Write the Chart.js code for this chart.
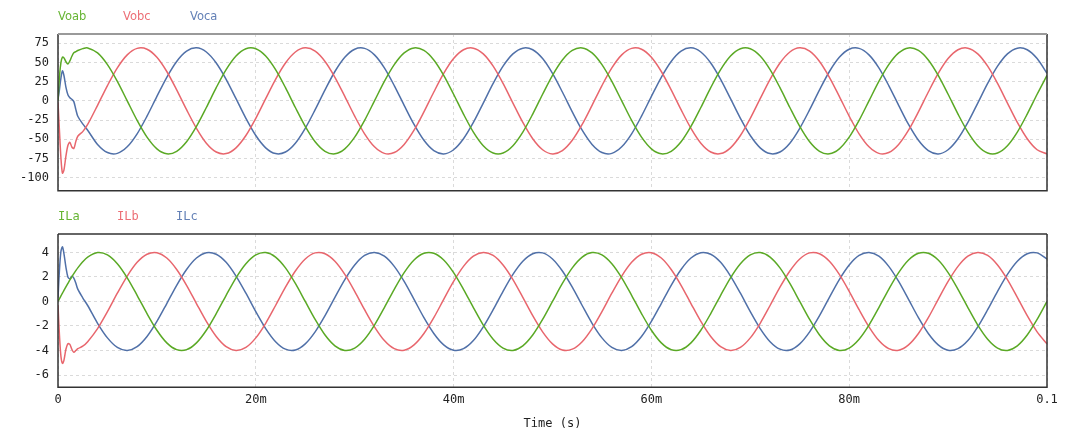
<!DOCTYPE html>
<html>
<head>
<meta charset="utf-8">
<script src="https://cdn.jsdelivr.net/npm/chart.js@4.4.1/dist/chart.umd.min.js"></script>
<style>
    html, body { margin: 0; padding: 0; background: #fff; }
    #wrap { position: relative; width: 1080px; height: 438px; overflow: hidden; }
    .panel { position: absolute; left: 0; width: 1080px; }
    .legend { position: absolute; font: 12px "DejaVu Sans Mono", monospace; line-height: 14px; white-space: pre; }
    .legend.sans { font: 11.5px "DejaVu Sans", sans-serif; line-height: 14px; }
</style>
</head>
<body>
<div id="wrap">
    <div class="panel" style="top:200px;height:238px"><canvas id="currChart" width="1080" height="238"></canvas></div>
    <div class="panel" style="top:0;height:207px"><canvas id="voltChart" width="1080" height="207"></canvas></div>
    <span class="legend sans" style="left:58px;top:9px;color:#66b533">Voab</span>
    <span class="legend sans" style="left:123px;top:9px;color:#ec6f76">Vobc</span>
    <span class="legend sans" style="left:190px;top:9px;color:#6380b6">Voca</span>
    <span class="legend" style="left:58px;top:209px;color:#66b533">ILa</span>
    <span class="legend" style="left:117px;top:209px;color:#ec6f76">ILb</span>
    <span class="legend" style="left:176px;top:209px;color:#6380b6">ILc</span>
</div>
<script>
// time axis in ms (labels shown as 0 .. 0.1 s)
const timeMs = [0, 0.15, 0.3, 0.45, 0.6, 0.8, 1, 1.2, 1.4, 1.6, 1.8, 2, 2.5,
    3, 4, 5, 6, 7, 8, 9, 10, 11, 12, 13, 14, 15, 16, 17, 18, 19, 20,
    21, 22, 23, 24, 25, 26, 27, 28, 29, 30, 31, 32, 33, 34, 35, 36, 37, 38, 39, 40,
    41, 42, 43, 44, 45, 46, 47, 48, 49, 50, 51, 52, 53, 54, 55, 56, 57, 58, 59, 60,
    61, 62, 63, 64, 65, 66, 67, 68, 69, 70, 71, 72, 73, 74, 75, 76, 77, 78, 79, 80,
    81, 82, 83, 84, 85, 86, 87, 88, 89, 90, 91, 92, 93, 94, 95, 96, 97, 98, 99, 100];

const voab = [0, 32, 50, 57, 56, 51, 48, 52, 58, 62.5, 64, 65.5, 68,
    68.9, 62.4, 47.2, 25.4, 0, -25.4, -47.2, -62.4, -68.9, -65.6, -53.2, -33.2, -8.6, 17.2, 40.6, 58.3, 67.8, 67.8,
    58.3, 40.6, 17.2, -8.6, -33.2, -53.2, -65.6, -68.9, -62.4, -47.2, -25.4, 0, 25.4, 47.2, 62.4, 68.9, 65.6, 53.2, 33.2, 8.6,
    -17.2, -40.6, -58.3, -67.8, -67.8, -58.3, -40.6, -17.2, 8.6,
    33.2, 53.2, 65.6, 68.9, 62.4, 47.2, 25.4, 0, -25.4, -47.2, -62.4, -68.9, -65.6, -53.2, -33.2, -8.6, 17.2, 40.6, 58.3, 67.8,
    67.8, 58.3, 40.6, 17.2, -8.6, -33.2, -53.2, -65.6, -68.9, -62.4, -47.2, -25.4, 0, 25.4, 47.2, 62.4, 68.9, 65.6, 53.2, 33.2,
    8.6, -17.2, -40.6, -58.3, -67.8, -67.8, -58.3, -40.6, -17.2, 8.6, 33.2];

const vobc = [-2, -40, -75, -94, -90, -72, -58, -54, -60, -62, -53, -46, -40,
    -30.7, -5.8, 19.9, 42.9, 59.8, 68.3, 67.2, 56.7, 38.2, 14.3, -11.5, -35.7, -55.0, -66.5, -68.6, -61.1, -45.1, -22.7,
    2.9, 28.1, 49.3, 63.6, 69.0, 64.7, 51.3, 30.7, 5.8, -19.9, -42.9, -59.8, -68.3, -67.2, -56.7, -38.2, -14.3, 11.5, 35.7, 55.0,
    66.5, 68.6, 61.1, 45.1, 22.7, -2.9, -28.1, -49.3, -63.6,
    -69.0, -64.7, -51.3, -30.7, -5.8, 19.9, 42.9, 59.8, 68.3, 67.2, 56.7, 38.2, 14.3, -11.5, -35.7, -55.0, -66.5, -68.6, -61.1, -45.1,
    -22.7, 2.9, 28.1, 49.3, 63.6, 69.0, 64.7, 51.3, 30.7, 5.8, -19.9, -42.9, -59.8, -68.3, -67.2, -56.7, -38.2, -14.3, 11.5, 35.7,
    55.0, 66.5, 68.6, 61.1, 45.1, 22.7, -2.9, -28.1, -49.3, -63.6, -69.0];

const voca = [2, 15, 30, 39, 33, 18, 8, 4, 2, -1, -11, -20, -30,
    -38.2, -56.7, -67.2, -68.3, -59.8, -42.9, -19.9, 5.8, 30.7, 51.3, 64.7, 69.0, 63.6, 49.3, 28.1, 2.9, -22.7, -45.1,
    -61.1, -68.6, -66.5, -55.0, -35.7, -11.5, 14.3, 38.2, 56.7, 67.2, 68.3, 59.8, 42.9, 19.9, -5.8, -30.7, -51.3, -64.7, -69.0, -63.6,
    -49.3, -28.1, -2.9, 22.7, 45.1, 61.1, 68.6, 66.5, 55.0,
    35.7, 11.5, -14.3, -38.2, -56.7, -67.2, -68.3, -59.8, -42.9, -19.9, 5.8, 30.7, 51.3, 64.7, 69.0, 63.6, 49.3, 28.1, 2.9, -22.7,
    -45.1, -61.1, -68.6, -66.5, -55.0, -35.7, -11.5, 14.3, 38.2, 56.7, 67.2, 68.3, 59.8, 42.9, 19.9, -5.8, -30.7, -51.3, -64.7, -69.0,
    -63.6, -49.3, -28.1, -2.9, 22.7, 45.1, 61.1, 68.6, 66.5, 55.0, 35.7];

const ila = [0, 0.23, 0.45, 0.68, 0.9, 1.19, 1.47, 1.75, 2.01, 2.27, 2.51, 2.74, 3.24,
    3.62, 3.99, 3.80, 3.08, 1.93, 0.50, -0.99, -2.35, -3.38, -3.93, -3.93, -3.38, -2.35, -0.99, 0.50, 1.93, 3.08, 3.80,
    3.99, 3.62, 2.74, 1.47, 0, -1.47, -2.74, -3.62, -3.99, -3.80, -3.08, -1.93, -0.50, 0.99, 2.35, 3.38, 3.93, 3.93, 3.38, 2.35,
    0.99, -0.50, -1.93, -3.08, -3.80, -3.99, -3.62, -2.74, -1.47,
    0, 1.47, 2.74, 3.62, 3.99, 3.80, 3.08, 1.93, 0.50, -0.99, -2.35, -3.38, -3.93, -3.93, -3.38, -2.35, -0.99, 0.50, 1.93, 3.08,
    3.80, 3.99, 3.62, 2.74, 1.47, 0, -1.47, -2.74, -3.62, -3.99, -3.80, -3.08, -1.93, -0.50, 0.99, 2.35, 3.38, 3.93, 3.93, 3.38,
    2.35, 0.99, -0.50, -1.93, -3.08, -3.80, -3.99, -3.62, -2.74, -1.47, 0];

const ilb = [-0.3, -2.8, -4.5, -5.05, -4.8, -3.9, -3.45, -3.5, -3.9, -4.15, -4.0, -3.85, -3.65,
    -3.28, -2.21, -0.83, 0.67, 2.07, 3.19, 3.85, 3.98, 3.54, 2.61, 1.32, -0.17, -1.63, -2.86, -3.69, -4.00, -3.75, -2.97,
    -1.78, -0.33, 1.16, 2.48, 3.46, 3.96, 3.89, 3.28, 2.21, 0.83, -0.67, -2.07, -3.19, -3.85, -3.98, -3.54, -2.61, -1.32, 0.17, 1.63,
    2.86, 3.69, 4.00, 3.75, 2.97, 1.78, 0.33, -1.16, -2.48,
    -3.46, -3.96, -3.89, -3.28, -2.21, -0.83, 0.67, 2.07, 3.19, 3.85, 3.98, 3.54, 2.61, 1.32, -0.17, -1.63, -2.86, -3.69, -4.00, -3.75,
    -2.97, -1.78, -0.33, 1.16, 2.48, 3.46, 3.96, 3.89, 3.28, 2.21, 0.83, -0.67, -2.07, -3.19, -3.85, -3.98, -3.54, -2.61, -1.32, 0.17,
    1.63, 2.86, 3.69, 4.00, 3.75, 2.97, 1.78, 0.33, -1.16, -2.48, -3.46];

const ilc = [0.3, 2.6, 4.1, 4.45, 3.9, 2.8, 2.0, 1.85, 2.05, 1.9, 1.5, 1.0, 0.3,
    -0.33, -1.78, -2.97, -3.75, -4.00, -3.69, -2.86, -1.63, -0.17, 1.32, 2.61, 3.54, 3.98, 3.85, 3.19, 2.07, 0.67, -0.83,
    -2.21, -3.28, -3.89, -3.96, -3.46, -2.48, -1.16, 0.33, 1.78, 2.97, 3.75, 4.00, 3.69, 2.86, 1.63, 0.17, -1.32, -2.61, -3.54, -3.98,
    -3.85, -3.19, -2.07, -0.67, 0.83, 2.21, 3.28, 3.89, 3.96,
    3.46, 2.48, 1.16, -0.33, -1.78, -2.97, -3.75, -4.00, -3.69, -2.86, -1.63, -0.17, 1.32, 2.61, 3.54, 3.98, 3.85, 3.19, 2.07, 0.67,
    -0.83, -2.21, -3.28, -3.89, -3.96, -3.46, -2.48, -1.16, 0.33, 1.78, 2.97, 3.75, 4.00, 3.69, 2.86, 1.63, 0.17, -1.32, -2.61, -3.54,
    -3.98, -3.85, -3.19, -2.07, -0.67, 0.83, 2.21, 3.28, 3.89, 3.96, 3.46];

const xTickValues = [0, 20, 40, 60, 80, 100];
const xTickLabels = ['0', '20m', '40m', '60m', '80m', '0.1'];
const voltTicks = [75, 50, 25, 0, -25, -50, -75, -100];
const currTicks = [4, 2, 0, -2, -4, -6];

const GREEN = '#5aa925';
const RED = '#e8666d';
const BLUE = '#5070a8';
const FONT = { family: '"DejaVu Sans Mono", monospace', size: 12 };

// box around the plot area, top edge can be a different colour
const framePlugin = {
    id: 'frame',
    afterDraw(chart, args, opts) {
        const { ctx, chartArea: a } = chart;
        ctx.save();
        ctx.lineWidth = 1.5;
        ctx.strokeStyle = '#333';
        ctx.beginPath();
        ctx.moveTo(a.left, a.top);
        ctx.lineTo(a.left, a.bottom);
        ctx.lineTo(a.right, a.bottom);
        ctx.lineTo(a.right, a.top);
        ctx.stroke();
        ctx.lineWidth = opts.topWidth || 1.5;
        ctx.strokeStyle = opts.topColor || '#333';
        ctx.beginPath();
        ctx.moveTo(a.left, a.top);
        ctx.lineTo(a.right, a.top);
        ctx.stroke();
        ctx.restore();
    }
};

function series(values, color) {
    return {
        data: timeMs.map((t, i) => ({ x: t, y: values[i] })),
        borderColor: color,
        borderWidth: 1.5,
        pointRadius: 0,
        tension: 0.3,
        fill: false
    };
}

function makeChart(canvasId, datasets, yMin, yMax, yTicks, showX, frameOpts) {
    const ctx = document.getElementById(canvasId).getContext('2d');
    return new Chart(ctx, {
        type: 'line',
        data: { datasets: datasets },
        options: {
            responsive: false,
            animation: false,
            layout: { padding: { left: 0, right: 33, top: 34, bottom: showX ? 0 : 2 } },
            plugins: {
                legend: { display: false },
                tooltip: { enabled: false },
                frame: frameOpts
            },
            scales: {
                x: {
                    type: 'linear',
                    min: 0,
                    max: 100,
                    afterBuildTicks: (axis) => { axis.ticks = xTickValues.map(v => ({ value: v })); },
                    afterFit: (axis) => { axis.height = showX ? 50.7 : 0; },
                    ticks: {
                        display: showX,
                        padding: 5,
                        maxRotation: 0,
                        color: '#222',
                        font: FONT,
                        callback: (value) => xTickLabels[xTickValues.indexOf(value)]
                    },
                    grid: { color: '#dadada', drawTicks: false },
                    border: { display: false, dash: [3, 3] },
                    title: {
                        display: showX,
                        text: 'Time (s)',
                        color: '#222',
                        font: FONT,
                        padding: { top: 0, bottom: 7 }
                    }
                },
                y: {
                    min: yMin,
                    max: yMax,
                    afterBuildTicks: (axis) => { axis.ticks = yTicks.map(v => ({ value: v })); },
                    afterFit: (axis) => { axis.width = 58; },
                    ticks: { padding: 9, color: '#222', font: FONT },
                    grid: { color: '#dadada', drawTicks: false },
                    border: { display: false, dash: [3, 3] }
                }
            }
        },
        plugins: [framePlugin]
    });
}

makeChart('voltChart',
    [series(voab, GREEN), series(vobc, RED), series(voca, BLUE)],
    -117, 87, voltTicks, false, { topColor: '#9a9a9a', topWidth: 2 });

makeChart('currChart',
    [series(ila, GREEN), series(ilb, RED), series(ilc, BLUE)],
    -7, 5.5, currTicks, true, { topColor: '#333', topWidth: 1.5 });
</script>
</body>
</html>
